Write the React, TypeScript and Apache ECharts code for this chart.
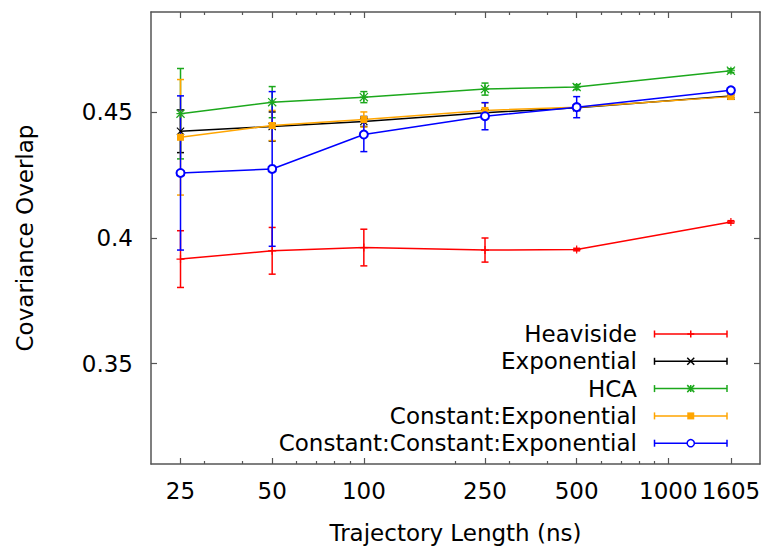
import { useEffect, useRef } from 'react';
import * as echarts from 'echarts';

// Trajectory lengths (ns)
const lengths = [25, 50, 100, 250, 500, 1605];
const majorTicks = [25, 50, 100, 250, 500, 1000, 1605];
const minorTicks = [30, 40, 60, 70, 80, 90, 200, 300, 400, 600, 700, 800, 900];
const yTicks = [0.35, 0.4, 0.45];

const seriesNames = ['Heaviside', 'Exponential', 'HCA', 'Constant:Exponential', 'Constant:Constant:Exponential'];

const heaviside = [0.3916, 0.3949, 0.3962, 0.3952, 0.3954, 0.4064];
const heavisideErr = [0.0113, 0.0093, 0.0073, 0.0048, 0.0005, 0.0005];
const exponential = [0.4425, 0.4444, 0.4464, 0.4499, 0.4519, 0.4565];
const exponentialErr = [0.0085, 0.0058, 0.002, 0.001, 0.0008, 0.0005];
const hca = [0.4495, 0.4541, 0.4561, 0.4593, 0.4601, 0.4666];
const hcaErr = [0.018, 0.0062, 0.0022, 0.0024, 0.001, 0.0008];
const constExp = [0.4401, 0.4448, 0.4472, 0.4508, 0.4521, 0.4563];
const constExpErr = [0.023, 0.006, 0.003, 0.003, 0.001, 0.0006];
const constConstExp = [0.4259, 0.4275, 0.4412, 0.4485, 0.4521, 0.4588];
const constConstExpErr = [0.0307, 0.0308, 0.0068, 0.0054, 0.0042, 0.0008];

const seriesValues = [heaviside, exponential, hca, constExp, constConstExp];
const seriesErrors = [heavisideErr, exponentialErr, hcaErr, constExpErr, constConstExpErr];

const COLORS = ['#ff0000', '#000000', '#1ca81c', '#ffa500', '#0000ff'];
const MARKERS = ['plus', 'cross', 'star', 'square', 'circle'];

const FONT = 'DejaVu Sans';
const FS = 23;
const FRAME = '#555555';

const PLUS = 'M-0.75,-5H0.75V-0.75H5V0.75H0.75V5H-0.75V0.75H-5V-0.75H-0.75Z';
const CROSS = 'M-5.53,-4.47L-4.47,-5.53L5.53,4.47L4.47,5.53Z M-4.47,5.53L-5.53,4.47L4.47,-5.53L5.53,-4.47Z';

function symbolFor(m: string) {
  if (m === 'plus') return { symbol: 'path://' + PLUS, size: 8 };
  if (m === 'cross') return { symbol: 'path://' + CROSS, size: 8 };
  if (m === 'star') return { symbol: 'path://' + PLUS + ' ' + CROSS, size: 9 };
  if (m === 'square') return { symbol: 'rect', size: 7 };
  return { symbol: 'emptyCircle', size: 8 };
}

const lg = (v: number) => Math.log10(v);

function legendMarker(m: string, cx: number, cy: number, color: string) {
  const st = { stroke: color, lineWidth: 1.5 };
  const r = 3.5;
  const ln = (x1: number, y1: number, x2: number, y2: number) => ({
    type: 'line', shape: { x1, y1, x2, y2 }, style: st, silent: true,
  });
  if (m === 'plus') return [ln(cx - r, cy, cx + r, cy), ln(cx, cy - r, cx, cy + r)];
  if (m === 'cross') return [ln(cx - r, cy - r, cx + r, cy + r), ln(cx - r, cy + r, cx + r, cy - r)];
  if (m === 'star')
    return [
      ln(cx - r, cy, cx + r, cy), ln(cx, cy - r, cx, cy + r),
      ln(cx - r, cy - r, cx + r, cy + r), ln(cx - r, cy + r, cx + r, cy - r),
    ];
  if (m === 'square')
    return [{ type: 'rect', shape: { x: cx - 3.5, y: cy - 3.5, width: 7, height: 7 }, style: { fill: color }, silent: true }];
  return [{ type: 'circle', shape: { cx, cy, r: 3.6 }, style: { fill: '#ffffff', stroke: color, lineWidth: 1.5 }, silent: true }];
}

export default function App() {
  const ref = useRef<HTMLDivElement>(null);

  useEffect(() => {
    if (!ref.current) return;
    const chart = echarts.init(ref.current, undefined, { renderer: 'svg' });

    const xMin = 20;
    const xMax = 2000;
    const yMin = 0.31;
    const yMax = 0.49;

    const fmtX = (v: number) => {
      const t = majorTicks.find((m) => Math.abs(lg(m) - v) < 1e-6);
      return t === undefined ? '' : String(t);
    };

    const valueXAxis = (pos: string, ticks: number[], len: number, line: boolean, labels: boolean) => ({
      type: 'value',
      gridIndex: 0,
      position: pos,
      min: lg(xMin),
      max: lg(xMax),
      axisLine: { show: line, onZero: false, lineStyle: { color: FRAME, width: 1.5 } },
      axisTick: {
        show: true,
        inside: true,
        length: len,
        customValues: ticks.map(lg),
        lineStyle: { color: FRAME, width: 1.2 },
      },
      axisLabel: labels
        ? {
            show: true,
            customValues: ticks.map(lg),
            formatter: fmtX,
            margin: 15,
            color: '#000',
            fontSize: FS,
            fontFamily: FONT,
          }
        : { show: false },
      splitLine: { show: false },
      ...(labels
        ? {
            name: 'Trajectory Length (ns)',
            nameLocation: 'middle',
            nameGap: 57,
            nameTextStyle: { color: '#000', fontSize: FS, fontFamily: FONT },
          }
        : {}),
    });

    const series: any[] = [];
    seriesNames.forEach((name, k) => {
      const vals = seriesValues[k];
      const errs = seriesErrors[k];
      const color = COLORS[k];
      series.push({
        type: 'custom',
        name: name + ' error',
        xAxisIndex: 0,
        yAxisIndex: 0,
        silent: true,
        encode: { x: 0, y: [1, 2] },
        data: lengths.map((x, i) => [x, vals[i] - errs[i], vals[i] + errs[i]]),
        renderItem: (_params: any, api: any) => {
          const x = api.value(0);
          const lo = api.coord([x, api.value(1)]);
          const hi = api.coord([x, api.value(2)]);
          const hw = 3.5;
          const style = { stroke: color, lineWidth: 1.5, fill: 'none' };
          return {
            type: 'group',
            children: [
              { type: 'line', shape: { x1: lo[0], y1: lo[1], x2: hi[0], y2: hi[1] }, style },
              { type: 'line', shape: { x1: lo[0] - hw, y1: lo[1], x2: lo[0] + hw, y2: lo[1] }, style },
              { type: 'line', shape: { x1: hi[0] - hw, y1: hi[1], x2: hi[0] + hw, y2: hi[1] }, style },
            ],
          };
        },
      });
      const sym = symbolFor(MARKERS[k]);
      series.push({
        type: 'line',
        name,
        xAxisIndex: 0,
        yAxisIndex: 0,
        silent: true,
        data: lengths.map((x, i) => [x, vals[i]]),
        symbol: sym.symbol,
        symbolSize: sym.size,
        showSymbol: true,
        lineStyle: { color, width: 1.5 },
        itemStyle:
          MARKERS[k] === 'circle'
            ? { color, borderColor: color, borderWidth: 1.5 }
            : { color, borderWidth: 0 },
        emphasis: { disabled: true },
      });
    });

    const legendGraphics: any[] = [];
    const rowStart = 334;
    const rowStep = 27.3;
    const textRight = 637;
    const lineX1 = 654.5;
    const lineX2 = 727;
    seriesNames.forEach((name, k) => {
      const y = rowStart + k * rowStep;
      const color = COLORS[k];
      const st = { stroke: color, lineWidth: 1.5 };
      legendGraphics.push({
        type: 'text',
        x: textRight,
        y,
        silent: true,
        style: {
          text: name,
          align: 'right',
          verticalAlign: 'middle',
          textAlign: 'right',
          textVerticalAlign: 'middle',
          fontSize: FS,
          fontFamily: FONT,
          fill: '#000',
        },
      });
      legendGraphics.push({ type: 'line', silent: true, shape: { x1: lineX1, y1: y, x2: lineX2, y2: y }, style: st });
      legendGraphics.push({ type: 'line', silent: true, shape: { x1: lineX1, y1: y - 3.5, x2: lineX1, y2: y + 3.5 }, style: st });
      legendGraphics.push({ type: 'line', silent: true, shape: { x1: lineX2, y1: y - 3.5, x2: lineX2, y2: y + 3.5 }, style: st });
      legendMarker(MARKERS[k], (lineX1 + lineX2) / 2, y, color).forEach((g) => legendGraphics.push(g));
    });

    chart.setOption({
      animation: false,
      backgroundColor: '#ffffff',
      textStyle: { fontFamily: FONT },
      grid: {
        left: 151,
        right: 7,
        top: 12,
        bottom: 83,
        containLabel: false,
        outerBoundsMode: 'none',
      },
      xAxis: [
        {
          type: 'log',
          logBase: 10,
          gridIndex: 0,
          position: 'bottom',
          min: xMin,
          max: xMax,
          show: false,
          axisLine: { show: false },
          axisTick: { show: false },
          axisLabel: { show: false },
          splitLine: { show: false },
        },
        valueXAxis('bottom', majorTicks, 6, true, true),
        valueXAxis('bottom', minorTicks, 3, false, false),
        valueXAxis('top', majorTicks, 6, true, false),
        valueXAxis('top', minorTicks, 3, false, false),
      ],
      yAxis: [
        {
          type: 'value',
          gridIndex: 0,
          position: 'left',
          min: yMin,
          max: yMax,
          axisLine: { show: true, onZero: false, lineStyle: { color: FRAME, width: 1.5 } },
          axisTick: { show: true, inside: true, length: 6, customValues: yTicks, lineStyle: { color: FRAME, width: 1.2 } },
          axisLabel: {
            show: true,
            customValues: yTicks,
            margin: 18,
            color: '#000',
            fontSize: FS,
            fontFamily: FONT,
          },
          splitLine: { show: false },
          name: 'Covariance Overlap',
          nameLocation: 'middle',
          nameGap: 115,
          nameTextStyle: { color: '#000', fontSize: FS, fontFamily: FONT },
        },
        {
          type: 'value',
          gridIndex: 0,
          position: 'right',
          min: yMin,
          max: yMax,
          axisLine: { show: true, onZero: false, lineStyle: { color: FRAME, width: 1.5 } },
          axisTick: { show: true, inside: true, length: 6, customValues: yTicks, lineStyle: { color: FRAME, width: 1.2 } },
          axisLabel: { show: false },
          splitLine: { show: false },
        },
      ],
      series,
      graphic: { elements: legendGraphics },
    });

    return () => {
      chart.dispose();
    };
  }, []);

  return (
    <div
      ref={ref}
      style={{ position: 'fixed', left: 0, top: 0, width: 767, height: 547, background: '#fff' }}
    />
  );
}
